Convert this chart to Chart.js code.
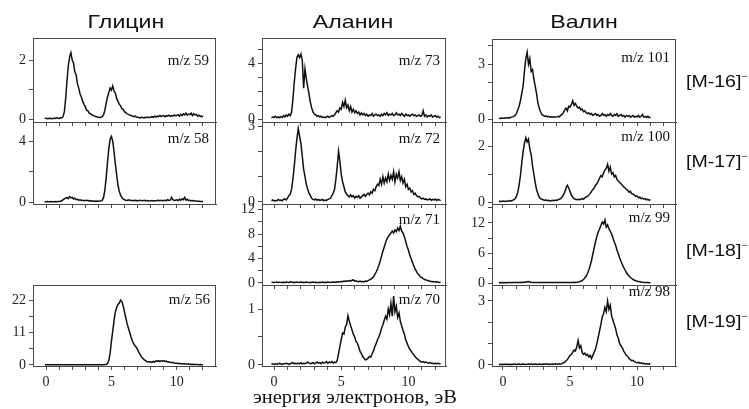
<!DOCTYPE html>
<html><head><meta charset="utf-8">
<script src="https://cdn.jsdelivr.net/npm/chart.js@4.4.1/dist/chart.umd.min.js"></script>
<style>
html,body{margin:0;padding:0;background:#fff;}
#wrap{position:relative;width:749px;height:409px;overflow:hidden;background:#fff;}
canvas{position:absolute;}
.t{position:absolute;white-space:nowrap;color:#111;}
.sans{font-family:"Liberation Sans",Arial,sans-serif;}
.serif{font-family:"Liberation Serif","Times New Roman",serif;}
</style></head>
<body><div id="wrap"></div>
<script>
// ---- data (electron energy grid: start + i*0.1 eV) ----
const energyStep = 0.1;
const glycineStart = -0.1;
const alanineStart = -0.2;
const valineStart = -0.3;

const columnTitles = ["Глицин", "Аланин", "Валин"];
const rowLabels = ["[M-16]", "[M-17]", "[M-18]", "[M-19]"];
const xAxisTitle = "энергия электронов, эВ";
const xTickValues = [0,1,2,3,4,5,6,7,8,9,10,11,12];
const xTickLabels = [0,5,10];

const gly59 = [0.02,0.03,0.01,0.02,0.03,0.02,0.01,0.03,0.02,0.04,0.03,
 0.02,0.05,0.04,0.08,0.25,0.7,1.3,1.8,2.1,2.25,
 2.0,1.9,1.6,1.5,1.2,1.05,0.85,0.75,0.6,0.5,
 0.42,0.3,0.28,0.2,0.18,0.14,0.12,0.1,0.09,0.07,
 0.06,0.05,0.06,0.08,0.15,0.3,0.55,0.75,0.9,1.05,
 0.98,1.12,0.95,0.88,0.7,0.6,0.5,0.45,0.35,0.32,
 0.25,0.22,0.18,0.15,0.14,0.12,0.1,0.08,0.1,0.07,
 0.06,0.05,0.04,0.06,0.05,0.04,0.06,0.05,0.07,0.05,
 0.06,0.08,0.06,0.1,0.07,0.1,0.08,0.12,0.09,0.1,
 0.12,0.08,0.11,0.1,0.13,0.09,0.12,0.1,0.14,0.11,
 0.12,0.15,0.1,0.16,0.12,0.18,0.14,0.2,0.13,0.17,
 0.15,0.2,0.12,0.18,0.14,0.16,0.1,0.13,0.09,0.1,0.06];

const gly58 = [0.02,0.02,0.03,0.02,0.02,0.03,0.02,0.02,0.03,0.02,0.03,
 0.03,0.05,0.08,0.15,0.2,0.25,0.3,0.22,0.35,0.28,
 0.3,0.2,0.25,0.15,0.18,0.12,0.15,0.1,0.12,0.08,
 0.1,0.12,0.08,0.1,0.06,0.08,0.05,0.07,0.05,0.06,
 0.05,0.06,0.08,0.12,0.3,0.8,1.6,2.6,3.5,4.1,
 4.3,4.0,3.3,2.5,1.8,1.1,0.7,0.45,0.3,0.2,
 0.15,0.12,0.1,0.14,0.1,0.12,0.08,0.1,0.12,0.09,
 0.1,0.08,0.12,0.1,0.09,0.11,0.08,0.1,0.09,0.07,
 0.08,0.1,0.07,0.09,0.08,0.1,0.12,0.09,0.11,0.08,
 0.1,0.12,0.09,0.15,0.1,0.12,0.3,0.15,0.1,0.12,
 0.14,0.1,0.18,0.12,0.2,0.15,0.3,0.12,0.18,0.1,
 0.12,0.09,0.1,0.08,0.07,0.06,0.05,0.05,0.04,0.04,0.03];

const gly56 = [0.1,0.12,0.1,0.11,0.1,0.12,0.1,0.11,0.1,0.12,0.1,
 0.1,0.11,0.1,0.12,0.1,0.1,0.11,0.1,0.12,0.1,
 0.11,0.1,0.12,0.1,0.1,0.11,0.1,0.12,0.1,0.11,
 0.1,0.12,0.1,0.1,0.11,0.1,0.12,0.1,0.11,0.1,
 0.1,0.12,0.1,0.11,0.12,0.15,0.2,0.5,1.5,4,
 8,11.5,15,18,19.5,20.5,21,22,21.5,20,
 18,16,14,12.5,11,9.5,8.2,7.2,6.5,6,
 5.2,4.3,3.5,2.8,2.3,1.8,1.5,1.2,1.1,1.0,
 1.1,0.9,1.2,1.0,1.4,1.2,1.5,1.2,1.4,1.3,
 1.5,1.2,1.3,1.0,1.1,0.9,0.8,0.9,0.7,0.6,
 0.6,0.5,0.5,0.45,0.4,0.4,0.35,0.3,0.3,0.3,
 0.25,0.2,0.25,0.2,0.15,0.2,0.15,0.12,0.15,0.1,0.1];

const ala73 = [0.1,0.15,0.12,0.2,0.1,0.15,0.1,0.18,0.12,0.25,
 0.15,0.3,0.2,0.35,0.25,0.5,1.4,2.6,3.6,4.4,
 4.6,4.4,4.65,4.2,2.2,3.6,2.9,2.3,1.8,1.2,
 0.8,0.5,0.35,0.3,0.2,0.25,0.15,0.2,0.12,0.15,
 0.1,0.15,0.2,0.12,0.18,0.25,0.2,0.3,0.45,0.6,
 0.5,0.8,0.7,1.2,0.9,1.35,0.8,1.0,0.6,0.9,
 0.5,0.7,0.45,0.6,0.4,0.5,0.3,0.45,0.3,0.4,
 0.25,0.35,0.2,0.3,0.25,0.4,0.2,0.3,0.35,0.25,
 0.3,0.2,0.35,0.25,0.4,0.3,0.45,0.25,0.35,0.3,
 0.4,0.25,0.3,0.45,0.3,0.35,0.25,0.4,0.3,0.2,
 0.35,0.25,0.3,0.2,0.3,0.35,0.25,0.3,0.2,0.25,
 0.3,0.2,0.25,0.6,0.2,0.3,0.15,0.25,0.2,0.3,
 0.15,0.2,0.25,0.15,0.2,0.1,0.15];

const ala72 = [0.05,0.08,0.04,0.06,0.05,0.1,0.06,0.08,0.05,0.1,
 0.12,0.08,0.15,0.25,0.3,0.5,0.9,1.4,2.0,2.5,
 2.9,2.6,2.3,1.8,1.3,1.0,0.7,0.5,0.35,0.25,
 0.15,0.1,0.08,0.12,0.07,0.1,0.06,0.08,0.1,0.05,
 0.08,0.06,0.1,0.12,0.15,0.25,0.35,0.5,0.9,1.4,
 2.0,1.6,1.1,0.8,0.6,0.4,0.3,0.25,0.2,0.28,
 0.2,0.25,0.15,0.22,0.18,0.25,0.15,0.2,0.25,0.3,
 0.22,0.3,0.35,0.28,0.4,0.35,0.5,0.45,0.6,0.7,
 0.65,0.9,0.7,1.0,0.75,0.95,0.8,1.1,0.85,1.05,
 0.9,1.2,0.8,1.1,0.95,1.2,0.85,1.0,0.75,0.9,
 0.6,0.7,0.5,0.55,0.4,0.45,0.3,0.35,0.25,0.2,
 0.22,0.15,0.12,0.15,0.1,0.12,0.08,0.1,0.12,0.07,
 0.1,0.08,0.12,0.06,0.1,0.08,0.05];

const ala71 = [0.1,0.12,0.08,0.1,0.15,0.1,0.12,0.1,0.08,0.12,
 0.1,0.15,0.12,0.1,0.2,0.15,0.1,0.12,0.1,0.15,
 0.1,0.12,0.15,0.1,0.12,0.1,0.15,0.12,0.1,0.12,
 0.1,0.15,0.1,0.12,0.1,0.1,0.12,0.1,0.15,0.1,
 0.12,0.1,0.15,0.12,0.1,0.15,0.12,0.15,0.1,0.2,
 0.15,0.2,0.25,0.2,0.3,0.25,0.35,0.3,0.4,0.3,
 0.45,0.5,0.3,0.35,0.25,0.2,0.3,0.2,0.25,0.2,
 0.3,0.25,0.4,0.5,0.6,0.8,1.0,1.4,1.8,2.3,
 2.9,3.6,4.4,5.2,5.9,6.6,7.2,7.6,7.9,8.2,
 8.5,8.2,8.7,8.4,9.0,8.6,9.3,8.5,8.2,7.6,
 6.8,6.0,5.4,4.6,4.0,3.4,2.8,2.3,1.9,1.5,
 1.3,1.0,0.9,0.7,0.6,0.5,0.45,0.35,0.3,0.25,
 0.2,0.25,0.15,0.2,0.15,0.1,0.12];

const ala70 = [0.01,0.02,0.01,0.02,0.01,0.02,0.03,0.02,0.01,0.02,
 0.02,0.03,0.02,0.01,0.02,0.03,0.04,0.02,0.03,0.02,
 0.03,0.02,0.04,0.02,0.03,0.02,0.03,0.05,0.03,0.02,
 0.03,0.04,0.02,0.03,0.05,0.03,0.04,0.02,0.05,0.03,
 0.04,0.06,0.03,0.05,0.04,0.06,0.03,0.05,0.04,0.08,
 0.2,0.33,0.45,0.57,0.55,0.68,0.72,0.88,0.78,0.7,
 0.63,0.55,0.5,0.42,0.39,0.32,0.24,0.2,0.15,0.12,
 0.09,0.1,0.12,0.15,0.14,0.2,0.25,0.33,0.38,0.45,
 0.5,0.57,0.65,0.72,0.8,0.87,0.82,1.0,0.9,1.1,
 0.87,1.23,0.95,1.05,0.85,0.93,0.78,0.7,0.62,0.55,
 0.45,0.39,0.33,0.28,0.25,0.21,0.18,0.15,0.12,0.1,
 0.08,0.06,0.05,0.06,0.04,0.05,0.04,0.03,0.04,0.03,
 0.03,0.02,0.03,0.02,0.03,0.02,0.02];

const val101 = [0.05,0.03,0.06,0.04,0.05,0.07,0.05,0.08,0.06,0.1,
 0.12,0.15,0.2,0.3,0.5,0.7,1.0,1.4,1.8,2.6,
 3.3,3.65,3.0,3.3,2.6,2.7,2.2,1.8,1.4,0.9,
 0.6,0.4,0.25,0.2,0.15,0.18,0.12,0.15,0.1,0.12,
 0.1,0.13,0.1,0.12,0.15,0.12,0.2,0.25,0.35,0.5,
 0.6,0.45,0.7,0.65,0.8,1.0,0.75,0.85,0.7,0.6,
 0.65,0.5,0.55,0.4,0.45,0.35,0.3,0.35,0.25,0.3,
 0.2,0.25,0.3,0.2,0.25,0.15,0.2,0.3,0.2,0.25,
 0.15,0.25,0.2,0.3,0.2,0.15,0.25,0.2,0.3,0.15,
 0.2,0.25,0.15,0.2,0.1,0.2,0.15,0.2,0.1,0.15,
 0.2,0.1,0.15,0.12,0.2,0.1,0.15,0.25,0.1,0.15,
 0.1,0.15,0.08,0.1];

const val100 = [0.02,0.03,0.02,0.04,0.03,0.02,0.04,0.03,0.05,0.04,
 0.06,0.08,0.12,0.2,0.35,0.6,0.95,1.4,1.8,2.1,
 2.3,2.15,2.25,1.9,1.7,1.3,1.0,0.7,0.45,0.3,
 0.18,0.12,0.1,0.08,0.06,0.08,0.05,0.06,0.04,0.05,
 0.06,0.05,0.07,0.06,0.08,0.1,0.12,0.18,0.25,0.35,
 0.5,0.6,0.5,0.38,0.25,0.18,0.12,0.1,0.08,0.1,
 0.08,0.1,0.12,0.1,0.15,0.18,0.2,0.25,0.3,0.38,
 0.45,0.5,0.6,0.65,0.75,0.85,0.95,0.9,1.05,1.15,
 1.2,1.35,1.1,1.25,1.0,1.05,0.9,0.95,0.8,0.75,
 0.7,0.65,0.6,0.55,0.5,0.45,0.42,0.35,0.38,0.3,
 0.28,0.25,0.2,0.22,0.15,0.18,0.12,0.14,0.1,0.12,
 0.08,0.1,0.07,0.08];

const val99 = [0.05,0.08,0.05,0.1,0.06,0.08,0.05,0.1,0.08,0.06,
 0.1,0.08,0.12,0.1,0.08,0.12,0.1,0.15,0.12,0.2,
 0.15,0.25,0.3,0.2,0.15,0.1,0.12,0.08,0.1,0.12,
 0.08,0.1,0.12,0.1,0.08,0.1,0.12,0.08,0.1,0.08,
 0.1,0.12,0.08,0.1,0.12,0.1,0.08,0.12,0.1,0.08,
 0.1,0.12,0.1,0.08,0.12,0.1,0.15,0.12,0.15,0.2,
 0.25,0.35,0.5,0.7,1.0,1.4,1.9,2.6,3.5,4.5,
 5.8,7.0,8.3,9.3,10.2,10.8,11.5,12.2,11.8,12.6,
 11.2,11.6,10.8,10.4,9.8,9.0,8.2,7.5,6.6,5.8,
 5.0,4.3,3.7,3.1,2.6,2.1,1.7,1.4,1.1,0.9,
 0.7,0.55,0.45,0.35,0.3,0.25,0.2,0.15,0.12,0.1,
 0.1,0.08,0.06,0.05];

const val98 = [0.02,0.03,0.02,0.03,0.02,0.04,0.02,0.03,0.02,0.03,
 0.02,0.04,0.03,0.02,0.03,0.04,0.02,0.03,0.04,0.03,
 0.02,0.03,0.05,0.03,0.04,0.02,0.03,0.04,0.03,0.02,
 0.04,0.03,0.02,0.04,0.03,0.05,0.03,0.04,0.02,0.03,
 0.04,0.03,0.05,0.04,0.03,0.05,0.04,0.06,0.1,0.12,
 0.2,0.25,0.35,0.45,0.5,0.6,0.7,0.65,0.85,1.15,
 0.8,0.9,0.6,0.5,0.55,0.45,0.5,0.38,0.45,0.3,
 0.45,0.6,0.75,1.0,1.3,1.6,1.9,2.25,2.4,2.7,
 2.5,3.0,2.6,2.8,2.3,2.1,1.9,1.7,1.4,1.25,
 1.0,0.9,0.8,0.65,0.55,0.45,0.4,0.3,0.25,0.2,
 0.22,0.15,0.12,0.1,0.12,0.08,0.1,0.06,0.08,0.05,
 0.06,0.04,0.05,0.03];

// ---- layout ----
const panels = [
 {d:gly59, s:glycineStart, L:33, T:38, R:216, B:122, x0:-1.0, x1:13.0, y0:-0.1, y1:2.75, yt:[0,1,2], yl:[0,2], mz:"m/z 59", mx:209, my:66, bottom:false},
 {d:gly58, s:glycineStart, L:33, T:122, R:216, B:204, x0:-1.0, x1:13.0, y0:-0.13, y1:5.25, yt:[0,2,4], yl:[0,4], mz:"m/z 58", mx:209, my:144, bottom:false},
 {d:gly56, s:glycineStart, L:33, T:285, R:216, B:366, x0:-1.0, x1:13.0, y0:-0.34, y1:27.1, yt:[0,5.5,11,16.5,22], yl:[0,11,22], mz:"m/z 56", mx:210, my:305, bottom:true},
 {d:ala73, s:alanineStart, L:262, T:38, R:446, B:122, x0:-0.9, x1:12.8, y0:-0.21, y1:5.8, yt:[0,1,2,3,4,5], yl:[0,4], mz:"m/z 73", mx:440, my:66, bottom:false},
 {d:ala72, s:alanineStart, L:262, T:122, R:446, B:204, x0:-0.9, x1:12.8, y0:-0.08, y1:3.16, yt:[0,1,2,3], yl:[0,3], mz:"m/z 72", mx:440, my:144, bottom:false},
 {d:ala71, s:alanineStart, L:262, T:204, R:446, B:285, x0:-0.9, x1:12.8, y0:-0.33, y1:12.95, yt:[0,2,4,6,8,10,12], yl:[0,4,8,12], mz:"m/z 71", mx:440, my:225, bottom:false},
 {d:ala70, s:alanineStart, L:262, T:285, R:446, B:366, x0:-0.9, x1:12.8, y0:-0.02, y1:1.43, yt:[0,0.5,1], yl:[0,1], mz:"m/z 70", mx:440, my:305, bottom:true},
 {d:val101, s:valineStart, L:492, T:39, R:676, B:122, x0:-0.82, x1:12.9, y0:-0.16, y1:4.37, yt:[0,1,2,3,4], yl:[0,3], mz:"m/z 101", mx:670, my:63, bottom:false},
 {d:val100, s:valineStart, L:492, T:122, R:676, B:204, x0:-0.82, x1:12.9, y0:-0.07, y1:2.86, yt:[0,1,2], yl:[0,2], mz:"m/z 100", mx:670, my:142, bottom:false},
 {d:val99, s:valineStart, L:492, T:204, R:676, B:285, x0:-0.82, x1:12.9, y0:-0.4, y1:15.8, yt:[0,3,6,9,12,15], yl:[0,6,12], mz:"m/z 99", mx:670, my:223, bottom:false},
 {d:val98, s:valineStart, L:492, T:285, R:676, B:366, x0:-0.82, x1:12.9, y0:-0.05, y1:3.75, yt:[0,1,2,3], yl:[0,3], mz:"m/z 98", mx:670, my:297, bottom:true}
];

const wrap = document.getElementById('wrap');
const PADL = 40, PADR = 4, PADT = 4;
const frame = {
  id:'frame',
  afterDraw(chart){
    const a = chart.chartArea, c = chart.ctx;
    c.save(); c.strokeStyle = '#4a4a4a'; c.lineWidth = 1;
    c.strokeRect(Math.round(a.left)+0.5, Math.round(a.top)+0.5, Math.round(a.right-a.left)-1, Math.round(a.bottom-a.top));
    c.restore();
  }
};
const noPad = s => { s.paddingTop = 0; s.paddingBottom = 0; s.paddingLeft = 0; s.paddingRight = 0; };

panels.forEach(p => {
  const xh = p.bottom ? 30 : 6;
  const cv = document.createElement('canvas');
  const w = (p.R - p.L) + PADL + PADR, h = (p.B - p.T) + PADT + xh;
  cv.width = w; cv.height = h;
  cv.style.left = (p.L - PADL) + 'px'; cv.style.top = (p.T - PADT) + 'px';
  cv.style.width = w + 'px'; cv.style.height = h + 'px';
  wrap.appendChild(cv);
  const pts = p.d.map((v, i) => ({x: +(p.s + i * energyStep).toFixed(2), y: v}));
  new Chart(cv, {
    type: 'line',
    data: {datasets: [{data: pts, borderColor: '#111', borderWidth: 1.5, pointRadius: 0, tension: 0, fill: false}]},
    options: {
      responsive: false, animation: false, devicePixelRatio: 1,
      layout: {padding: {left: 0, right: PADR, top: PADT, bottom: 0}},
      plugins: {legend: {display: false}, tooltip: {enabled: false}},
      scales: {
        x: {
          type: 'linear', min: p.x0, max: p.x1,
          afterFit: s => { s.height = xh; noPad(s); },
          afterBuildTicks: s => { s.ticks = xTickValues.map(v => ({value: v})); },
          ticks: {autoSkip: false, maxRotation: 0, padding: 4, color: '#222',
            font: {family: 'Liberation Serif', size: 14},
            callback: v => (p.bottom && xTickLabels.includes(v)) ? String(v) : ''},
          grid: {drawOnChartArea: false, drawTicks: true, tickLength: 4, tickColor: '#4a4a4a'},
          border: {color: '#4a4a4a'}
        },
        y: {
          min: p.y0, max: p.y1,
          afterFit: s => { s.width = PADL; noPad(s); },
          afterBuildTicks: s => { s.ticks = p.yt.map(v => ({value: v})); },
          ticks: {autoSkip: false, padding: 3, color: '#222',
            font: {family: 'Liberation Serif', size: 14},
            callback: v => p.yl.includes(v) ? String(v) : ''},
          grid: {drawOnChartArea: false, drawTicks: true, tickLength: 4, tickColor: '#4a4a4a'},
          border: {color: '#4a4a4a'}
        }
      }
    },
    plugins: [frame]
  });
  const t = document.createElement('div');
  t.className = 't serif'; t.textContent = p.mz;
  t.style.fontSize = '15px'; t.style.lineHeight = '15px';
  t.style.right = (749 - p.mx) + 'px'; t.style.top = (p.my - 12.6) + 'px';
  wrap.appendChild(t);
});

// column titles
const titleCenters = [126, 353, 584];
columnTitles.forEach((s, i) => {
  const d = document.createElement('div');
  d.className = 't sans'; d.textContent = s;
  d.style.fontSize = '19px'; d.style.lineHeight = '19px';
  d.style.left = (titleCenters[i] - 100) + 'px'; d.style.width = '200px'; d.style.textAlign = 'center';
  d.style.top = (28 - 16.1) + 'px';
  d.style.transform = 'scaleX(1.22)';
  wrap.appendChild(d);
});
// row labels
const rowBaselines = [87, 167, 256, 327];
rowLabels.forEach((s, i) => {
  const d = document.createElement('div');
  d.className = 't sans';
  d.innerHTML = s + '<span style="font-size:9px;position:relative;top:-8px;">&#8722;</span>';
  d.style.fontSize = '17px'; d.style.lineHeight = '17px';
  d.style.left = '686px'; d.style.top = (rowBaselines[i] - 14.4) + 'px';
  d.style.transformOrigin = 'left center'; d.style.transform = 'scaleX(1.15)';
  wrap.appendChild(d);
});
// x axis title
const xt = document.createElement('div');
xt.className = 't serif'; xt.textContent = xAxisTitle;
xt.style.fontSize = '18px'; xt.style.lineHeight = '18px';
xt.style.left = '155px'; xt.style.width = '400px'; xt.style.textAlign = 'center';
xt.style.top = (403 - 15) + 'px';
xt.style.transform = 'scaleX(1.14)';
wrap.appendChild(xt);
</script>
</body></html>
